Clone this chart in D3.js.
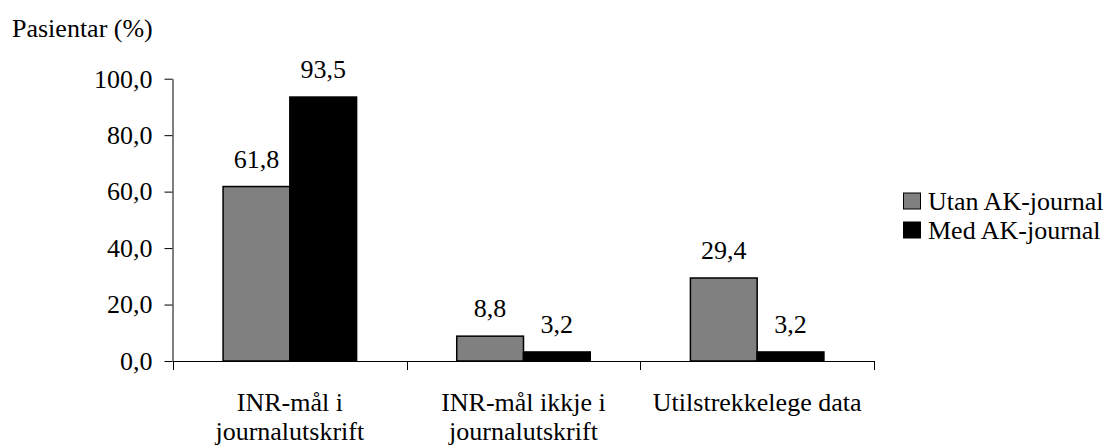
<!DOCTYPE html>
<html>
<head>
<meta charset="utf-8">
<script src="https://cdn.jsdelivr.net/npm/d3@7.8.5/dist/d3.min.js"></script>
</head>
<body style="margin:0">
<svg id="chart" width="1109" height="448"></svg>
<script>
// Chart data
const categories = [
    ['INR-mål i', 'journalutskrift'],
    ['INR-mål ikkje i', 'journalutskrift'],
    ['Utilstrekkelege data']
];
const seriesNames = ['Utan AK-journal', 'Med AK-journal'];
const utanValues = [61.8, 8.8, 29.4];
const medValues = [93.5, 3.2, 3.2];
const yTicks = [0, 20, 40, 60, 80, 100];

const colors = ['#808080', '#000000'];
const serif = '"Liberation Serif"';

const svg = d3.select('#chart');

const catKeys = categories.map((c, i) => i);
const x = d3.scaleBand().domain(catKeys).range([173, 874]).paddingInner(0).paddingOuter(0);
const xs = d3.scaleBand().domain(seriesNames).range([0, x.bandwidth()]).paddingInner(0).paddingOuter(0.75);
const y = d3.scaleLinear().domain([0, 100]).range([361, 78.7]);

const values = [utanValues, medValues];
const fmt = v => v.toFixed(1).replace('.', ',');

function label(sel) {
    return sel.attr('font-family', serif).attr('font-size', 26).attr('fill', '#000');
}

// y axis title
svg.append('text')
    .attr('x', 12)
    .attr('y', 37)
    .call(label)
    .text('Pasientar (%)');

// y axis
const yAxis = d3.axisLeft(y)
    .tickValues(yTicks)
    .tickSize(8)
    .tickSizeOuter(0)
    .tickPadding(12)
    .tickFormat(fmt);

const gy = svg.append('g')
    .attr('transform', 'translate(172.5,0)')
    .call(yAxis);
gy.attr('font-family', null).attr('font-size', null);
gy.select('.domain').attr('stroke', '#000');
gy.selectAll('.tick line').attr('stroke', '#000');
gy.selectAll('.tick text').call(label);

// bars
const groups = svg.append('g')
    .selectAll('g.cat')
    .data(catKeys)
    .enter()
    .append('g')
    .attr('class', 'cat')
    .attr('transform', d => `translate(${x(d)},0)`);

seriesNames.forEach((s, si) => {
    groups.append('rect')
        .attr('x', xs(s))
        .attr('y', d => y(values[si][d]))
        .attr('width', xs.bandwidth())
        .attr('height', d => y(0) - y(values[si][d]))
        .attr('fill', colors[si])
        .attr('stroke', '#000')
        .attr('stroke-width', 1.5);

    groups.append('text')
        .attr('x', xs(s) + xs.bandwidth() / 2)
        .attr('y', d => y(values[si][d]) - 19)
        .attr('text-anchor', 'middle')
        .call(label)
        .text(d => fmt(values[si][d]));
});

// x axis line and ticks at category boundaries
const xr = x.range();
svg.append('line')
    .attr('x1', xr[0]).attr('x2', xr[1])
    .attr('y1', y(0) + 0.5).attr('y2', y(0) + 0.5)
    .attr('stroke', '#000');

const boundaries = catKeys.map(d => x(d)).concat([xr[1]]);
svg.append('g')
    .selectAll('line')
    .data(boundaries)
    .enter()
    .append('line')
    .attr('x1', d => Math.round(d) + 0.5).attr('x2', d => Math.round(d) + 0.5)
    .attr('y1', y(0)).attr('y2', y(0) + 9)
    .attr('stroke', '#000');

// category labels, one text per line
categories.forEach((lines, ci) => {
    lines.forEach((line, li) => {
        svg.append('text')
            .attr('x', x(ci) + x.bandwidth() / 2)
            .attr('y', 411 + li * 29)
            .attr('text-anchor', 'middle')
            .call(label)
            .text(line);
    });
});

// legend
seriesNames.forEach((s, i) => {
    const ly = 201 + i * 29;
    svg.append('rect')
        .attr('x', 903.5).attr('y', ly - 8)
        .attr('width', 17).attr('height', 16)
        .attr('fill', colors[i])
        .attr('stroke', '#000');
    svg.append('text')
        .attr('x', 928)
        .attr('y', ly + 9)
        .call(label)
        .text(s);
});
</script>
</body>
</html>
